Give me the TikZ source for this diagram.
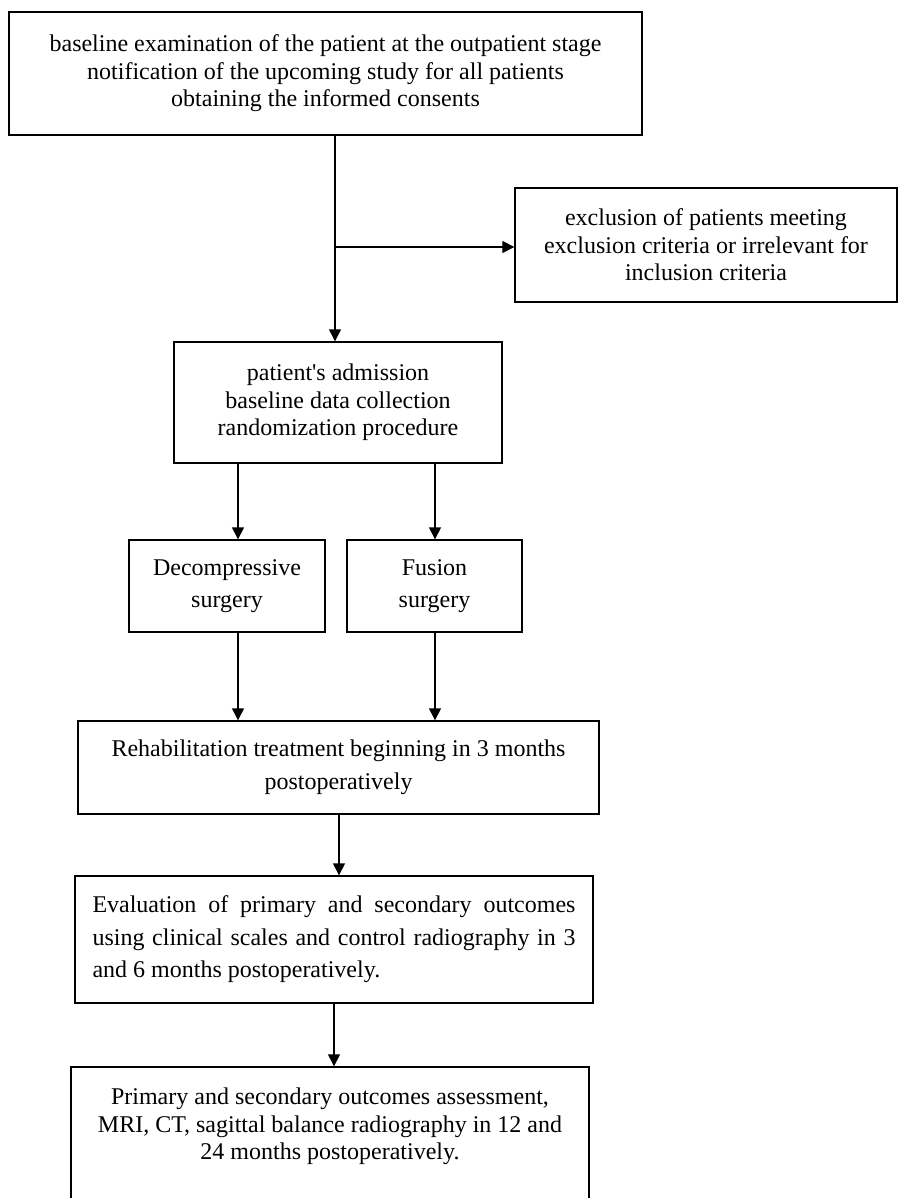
\documentclass[tikz,border=0pt]{standalone}
\usepackage{fontspec}
\setmainfont{Liberation Serif}
\usepackage{tikz}
\usetikzlibrary{arrows.meta}

\begin{document}
\begin{tikzpicture}[x=1pt, y=-1pt,
    box/.style={draw, line width=1.4pt, inner sep=0pt, align=center,
        font=\fontsize{24}{27.5}\selectfont},
    widebox/.style={box, font=\fontsize{24}{32.5}\selectfont},
    arr/.style={line width=1.4pt, -{Triangle[length=12pt, width=12pt]}}]
    % Page
    \useasboundingbox (0,0) rectangle (899,1198);
    \clip (0,0) rectangle (899,1198);

    % Boxes
    \node[box, minimum width=633pt, minimum height=123pt] (outpat) at (325.5,73.5)
        {baseline examination of the patient at the outpatient stage\\
         notification of the upcoming study for all patients\\
         obtaining the informed consents};
    \node[box, minimum width=382pt, minimum height=114pt] (exclude) at (706,245)
        {exclusion of patients meeting\\
         exclusion criteria or irrelevant for\\
         inclusion criteria};
    \node[box, minimum width=328pt, minimum height=121pt] (admit) at (338,402.5)
        {patient\textquotesingle s admission\\
         baseline data collection\\
         randomization procedure};
    \node[widebox, minimum width=196pt, minimum height=92pt] (decomp) at (227,586)
        {Decompressive\\ surgery};
    \node[widebox, minimum width=175pt, minimum height=92pt] (fusion) at (434.5,586)
        {Fusion\\ surgery};
    \node[widebox, minimum width=521pt, minimum height=93pt] (rehab) at (338.5,767.5)
        {Rehabilitation treatment beginning in 3 months\\ postoperatively};
    \node[widebox, align=justify, text width=483pt, minimum width=518pt,
        minimum height=127pt] (evalu) at (334,939.5)
        {Evaluation of primary and secondary outcomes\linebreak
         using clinical scales and control radiography in 3\linebreak
         and 6 months postoperatively.};
    \node[box, minimum width=518pt, minimum height=150pt] (assess) at (330,1142)
        {Primary and secondary outcomes assessment,\\
         MRI, CT, sagittal balance radiography in 12 and\\
         24 months postoperatively.\\ \strut};

    % Columns of the arrows
    \coordinate (split) at (335,247);
    \coordinate (colL) at (238,0);
    \coordinate (colR) at (435,0);
    \coordinate (colM) at (339,0);
    \coordinate (colB) at (334,0);

    % Arrows
    \draw[arr] (outpat.south -| split) -- (admit.north -| split);
    \draw[arr] (split) -- (split -| exclude.west);
    \draw[arr] (admit.south -| colL) -- (decomp.north -| colL);
    \draw[arr] (admit.south -| colR) -- (fusion.north -| colR);
    \draw[arr] (decomp.south -| colL) -- (rehab.north -| colL);
    \draw[arr] (fusion.south -| colR) -- (rehab.north -| colR);
    \draw[arr] (rehab.south -| colM) -- (evalu.north -| colM);
    \draw[arr] (evalu.south -| colB) -- (assess.north -| colB);
\end{tikzpicture}
\end{document}
